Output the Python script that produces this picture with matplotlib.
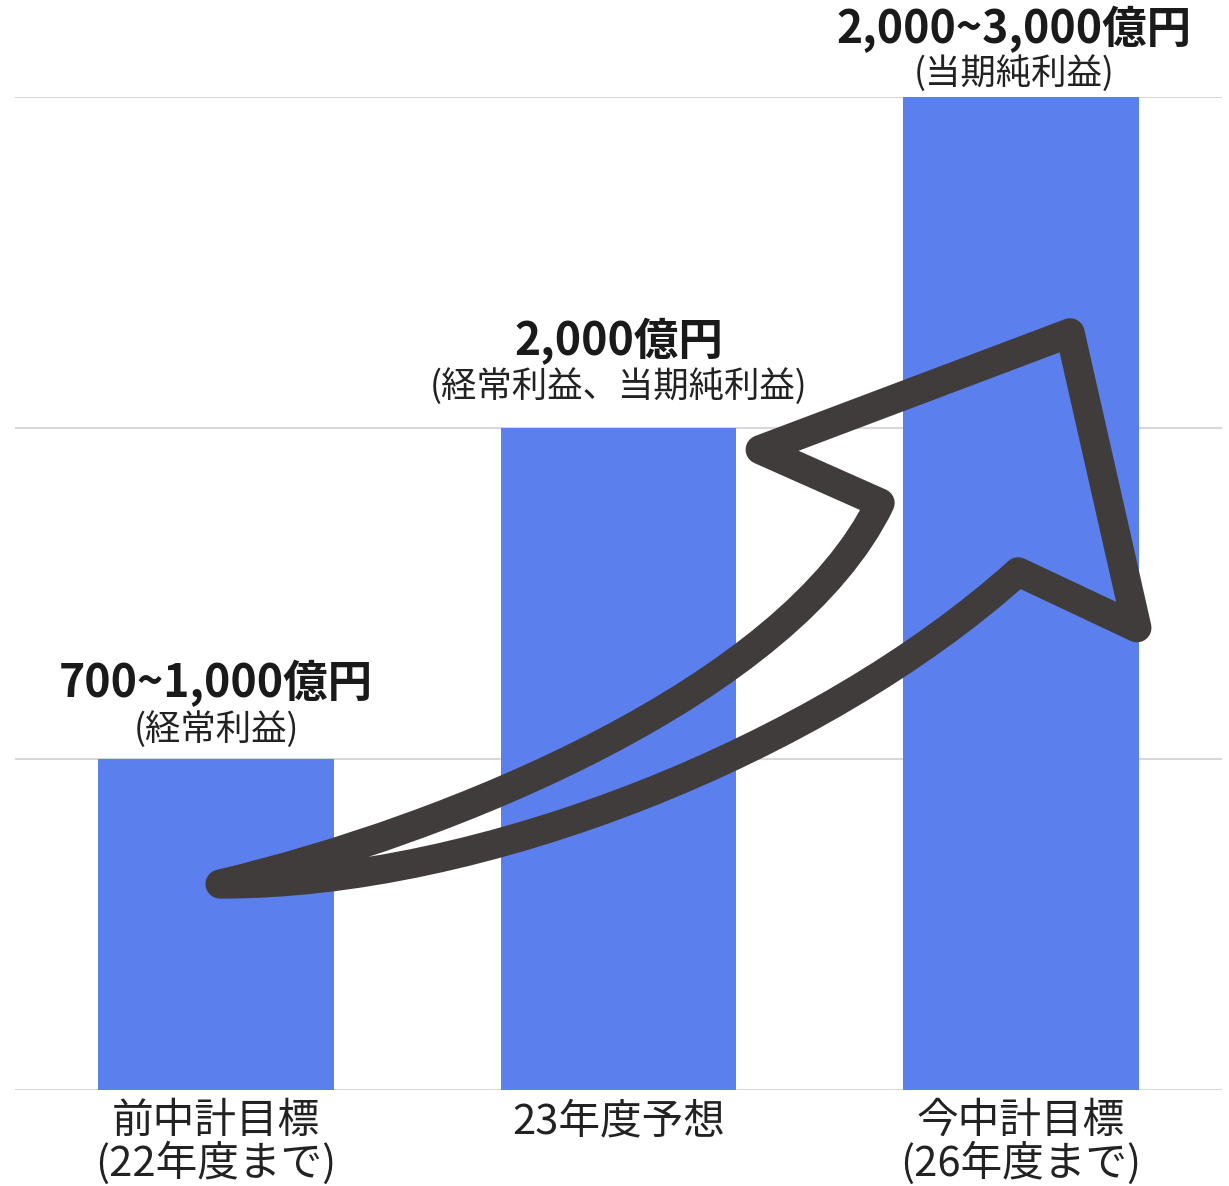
import matplotlib
matplotlib.use("Agg")
import matplotlib.pyplot as plt
from matplotlib.path import Path
from matplotlib.patches import PathPatch

plt.rcParams["font.family"] = ["Noto Sans CJK JP", "DejaVu Sans"]

# 目標値 (億円)
categories = ["前中計目標\n(22年度まで)", "23年度予想", "今中計目標\n(26年度まで)"]
low = [700, 2000, 2000]
high = [1000, 2000, 3000]
basis = ["(経常利益)", "(経常利益、当期純利益)", "(当期純利益)"]
yticks = [0, 1000, 2000, 3000]

BAR_COLOR = "#5b7fec"
ARROW_COLOR = "#403c3c"
GRID_COLOR = "#d8d8d8"

fig = plt.figure(figsize=(12.29, 11.86), dpi=100)
ax = fig.add_axes([0.012, 0.081, 0.9825, 0.8374])

x = list(range(len(categories)))
ax.bar(x, high, width=0.586, color=BAR_COLOR, zorder=2)

ax.set_xlim(-0.5, 2.5)
ax.set_ylim(0, 3000)
ax.set_yticks(yticks)
ax.set_yticklabels([])
ax.grid(axis="y", color=GRID_COLOR, lw=1.5, zorder=0)
ax.set_axisbelow(True)
ax.tick_params(axis="both", length=0)
ax.set_xticks(x)
ax.set_xticklabels(categories, fontsize=30, color="#222222", linespacing=0.98)
ax.tick_params(axis="x", pad=8)
for s in ax.spines.values():
    s.set_visible(False)

# ラベル (金額 + 区分)、オフセットはピクセル
title_off = [75, 86, 67]
sub_off = [29, 41, 23]
for i in x:
    if low[i] != high[i]:
        txt = f"{low[i]:,}~{high[i]:,}億円"
    else:
        txt = f"{high[i]:,}億円"
    dx = -7 if i == 2 else 0
    ax.annotate(txt, (i, high[i]), xytext=(dx * 0.72, title_off[i] * 0.72),
                textcoords="offset points", ha="center", va="center",
                fontsize=32, fontweight="bold", color="#1a1a1a",
                annotation_clip=False)
    ax.annotate(basis[i], (i, high[i]), xytext=(dx * 0.72, sub_off[i] * 0.72),
                textcoords="offset points", ha="center", va="center",
                fontsize=25.5, color="#222222", annotation_clip=False)

# 成長の矢印 (輪郭のみ)
verts = [
    (0.010, 622),
    (0.581, 785), (1.426, 1208), (1.650, 1773),
    (1.352, 1934),
    (2.122, 2287),
    (2.288, 1396),
    (1.993, 1565),
    (1.501, 1027), (0.656, 619), (0.010, 622),
    (0.010, 622),
]
codes = [
    Path.MOVETO,
    Path.CURVE4, Path.CURVE4, Path.CURVE4,
    Path.LINETO,
    Path.LINETO,
    Path.LINETO,
    Path.LINETO,
    Path.CURVE4, Path.CURVE4, Path.CURVE4,
    Path.CLOSEPOLY,
]
arrow = PathPatch(Path(verts, codes), facecolor="none", edgecolor=ARROW_COLOR,
                  lw=21, joinstyle="round", capstyle="round", zorder=4)
ax.add_patch(arrow)

fig.savefig("out.png", dpi=100, facecolor="white")
